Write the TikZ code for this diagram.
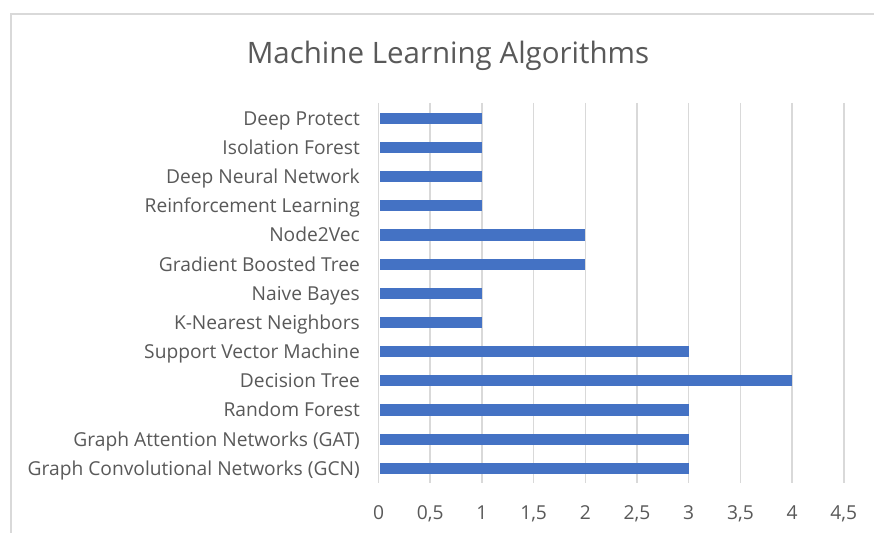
\documentclass[tikz,border=0pt]{standalone}
\usepackage{fontspec}
\setmainfont{Open Sans}
\definecolor{barblue}{HTML}{4472C4}
\definecolor{gridgrey}{HTML}{D9D9D9}
\definecolor{txtgrey}{HTML}{595959}
\definecolor{framegrey}{HTML}{D9D9D9}
\begin{document}
\begin{tikzpicture}[x=1pt,y=-1pt,
  lab/.style={anchor=base east,text=txtgrey,font=\fontsize{19.2}{20}\selectfont,inner sep=0pt},
  tick/.style={anchor=base,text=txtgrey,font=\fontsize{19.2}{20}\selectfont,inner sep=0pt},
  bar/.style={fill=barblue,draw=none},
  grid/.style={draw=gridgrey,line width=1.5pt}]
\useasboundingbox (0,0) rectangle (874,532);
\fill[white] (0,0) rectangle (874,532);
\draw[framegrey,line width=1.5pt] (11,540) -- (11,14) -- (880,14);
\node[anchor=base,text=txtgrey,font=\fontsize{29.5}{32}\selectfont,inner sep=0pt] (title) at (448,63.5) {Machine Learning Algorithms};
% gridlines and ticks
\foreach \i/\t in {0/0,1/{0,5},2/1,3/{1,5},4/2,5/{2,5},6/3,7/{3,5},8/4,9/{4,5}}{
  \draw[grid] (378.5+51.7*\i,103) -- (378.5+51.7*\i,483);
  \node[tick] (t\i) at (378.5+51.7*\i,519) {\t};
}
% bars
\foreach \k/\name/\v in {0/Deep Protect/1,1/Isolation Forest/1,2/Deep Neural Network/1,3/Reinforcement Learning/1,4/Node2Vec/2,5/Gradient Boosted Tree/2,6/Naive Bayes/1,7/K-Nearest Neighbors/1,8/Support Vector Machine/3,9/Decision Tree/4,10/Random Forest/3,11/Graph Attention Networks (GAT)/3,12/Graph Convolutional Networks (GCN)/3}{
  \fill[bar] (379.5,118.3+29.17*\k-5.6) rectangle (378.5+103.4*\v,118.3+29.17*\k+5.6);
  \node[lab] (l\k) at (360,118.3+29.17*\k+6.9) {\name};
}
\end{tikzpicture}
\end{document}
